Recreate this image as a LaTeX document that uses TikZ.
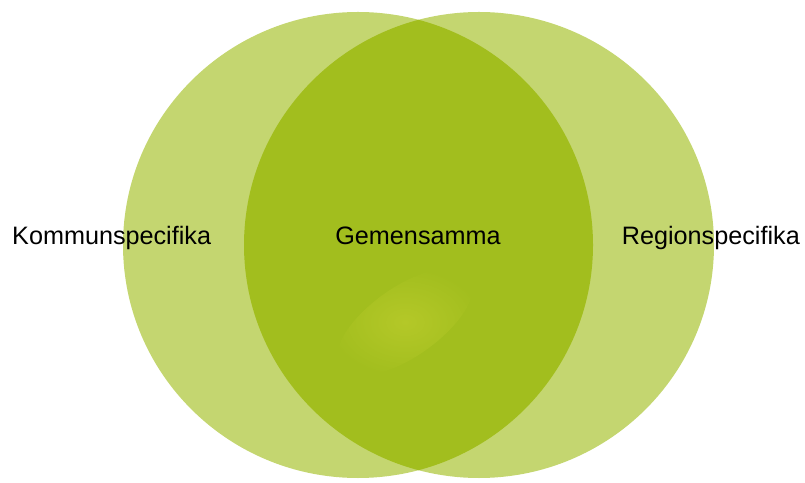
\documentclass[tikz,border=0pt]{standalone}
\usepackage{fontspec}
\setmainfont{Liberation Sans}
\usepackage{xcolor}
\usetikzlibrary{positioning}

\definecolor{setlight}{RGB}{196,214,112}
\definecolor{setdark}{RGB}{162,190,30}
\definecolor{setglow}{RGB}{180,200,40}

\begin{document}
\begin{tikzpicture}[
  x=1pt, y=1pt,
  label/.style={
    font=\fontsize{25.2}{30}\selectfont,
    text=black,
    inner sep=0pt
  },
  setfill/.style={fill=setlight}
]
  \useasboundingbox (0,0) rectangle (805,482);

  % the two sets
  \fill[setfill] (358,237) ellipse [x radius=235, y radius=233];
  \fill[setfill] (479,237) ellipse [x radius=235, y radius=233];

  % overlap
  \begin{scope}
    \clip (358,237) ellipse [x radius=235, y radius=233];
    \fill[setdark] (479,237) ellipse [x radius=235, y radius=233];
    \shade[inner color=setglow, outer color=setdark, rotate around={35:(405,160)}]
      (405,160) ellipse [x radius=80, y radius=35];
  \end{scope}

  \node[label, anchor=base west] (kommun) at (12,237)  {Kommunspecifika};
  \node[label, anchor=base]      (gemen)  at (418,237) {Gemensamma};
  \node[label, anchor=base east] (region) at (800,237) {Regionspecifika};
\end{tikzpicture}
\end{document}
